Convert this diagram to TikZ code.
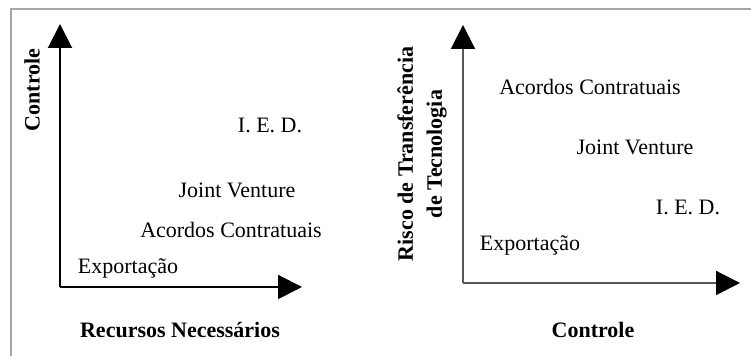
\documentclass[tikz,border=0pt]{standalone}
\usepackage{fontspec}
\setmainfont{Liberation Serif}
\usetikzlibrary{arrows.meta}
\begin{document}
\begin{tikzpicture}[->,>={Triangle[width=12pt,length=12pt,color=black]},x=.5pt,y=.5pt,
   font=\fontsize{11}{14.5}\selectfont]
   \useasboundingbox (0,0) rectangle (751,356);
   \draw[-,gray!70,line width=1pt] (751,347) -- (11,347) -- (11,0);

   % left chart
   \coordinate (o1) at (60,69);
   \coordinate (y1) at (60,332);
   \coordinate (x1) at (302,69);
   \draw[line width=1pt] (o1) -- (y1);
   \draw[line width=1pt] (o1) -- (x1);
   \node[rotate=90,font=\fontsize{11}{14.5}\selectfont\bfseries] (c1) at (32,266) {Controle};
   \node[font=\fontsize{11}{14.5}\selectfont\bfseries] (r1) at (180,26) {Recursos Necessários};
   \node (ied1) at (270,231) {I. E. D.};
   \node (jv1)  at (237,166) {Joint Venture};
   \node (ac1)  at (231,126) {Acordos Contratuais};
   \node (ex1)  at (128,88)  {Exportação};

   % right chart
   \coordinate (o2) at (463,73);
   \coordinate (y2) at (463,331);
   \coordinate (x2) at (740,73);
   \draw[line width=1pt,black!65] (o2) -- (y2);
   \draw[line width=1pt,black!65] (o2) -- (x2);
   \node[rotate=90,align=center,font=\fontsize{11}{14.5}\selectfont\bfseries] (r2) at (422,202)
      {Risco de Transferência\\de Tecnologia};
   \node[font=\fontsize{11}{14.5}\selectfont\bfseries] (c2) at (593,26) {Controle};
   \node (ac2)  at (590,269) {Acordos Contratuais};
   \node (jv2)  at (635,209) {Joint Venture};
   \node (ied2) at (688,149) {I. E. D.};
   \node (ex2)  at (530,111) {Exportação};
\end{tikzpicture}
\end{document}
